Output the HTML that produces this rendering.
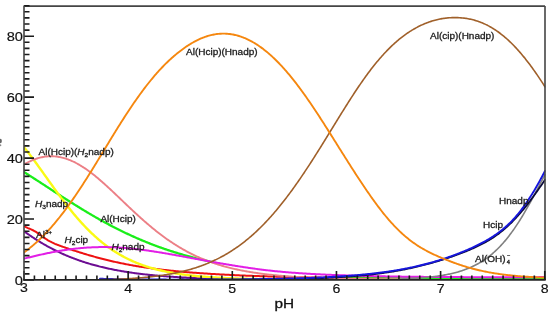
<!DOCTYPE html>
<html><head><meta charset="utf-8"><style>
html,body{margin:0;padding:0;background:#fff;}
body{width:550px;height:316px;overflow:hidden;}
svg{display:block;will-change:transform;}
text{font-family:"Liberation Sans",sans-serif;}
.tl{font-size:12px;fill:#111;stroke:#111;stroke-width:0.15px;}
.lb{font-size:9.1px;fill:#1c1c1c;stroke:#1c1c1c;stroke-width:0.3px;}
</style></head><body>
<svg width="550" height="316" viewBox="0 0 550 316">
<rect width="550" height="316" fill="#fff"/>
<clipPath id="pa"><rect x="24" y="5" width="521.5" height="275"/></clipPath>

<g clip-path="url(#pa)">
<polyline points="24.0,231.20 25.0,231.93 26.0,232.66 27.0,233.38 28.0,234.08 29.0,234.78 30.0,235.48 31.0,236.16 32.0,236.84 33.0,237.50 34.0,238.16 35.0,238.81 36.0,239.46 37.0,240.10 38.0,240.72 39.0,241.34 40.0,241.96 41.0,242.56 42.0,243.16 43.0,243.75 44.0,244.33 45.0,244.91 46.0,245.47 47.0,246.03 48.0,246.59 49.0,247.13 50.0,247.67 51.0,248.20 52.0,248.72 53.0,249.24 54.0,249.75 55.0,250.25 56.0,250.74 57.0,251.23 58.0,251.71 59.0,252.19 60.0,252.66 61.0,253.12 62.0,253.57 63.0,254.02 64.0,254.46 65.0,254.90 66.0,255.33 67.0,255.75 68.0,256.17 69.0,256.58 70.0,256.98 71.0,257.38 72.0,257.77 73.0,258.16 74.0,258.54 75.0,258.92 76.0,259.29 77.0,259.65 78.0,260.01 79.0,260.36 80.0,260.71 81.0,261.05 82.0,261.38 83.0,261.72 84.0,262.04 85.0,262.36 86.0,262.68 87.0,262.99 88.0,263.29 89.0,263.59 90.0,263.89 91.0,264.18 92.0,264.47 93.0,264.75 94.0,265.03 95.0,265.30 96.0,265.57 97.0,265.83 98.0,266.09 99.0,266.35 100.0,266.60 101.0,266.85 102.0,267.09 103.0,267.33 104.0,267.56 105.0,267.79 106.0,268.02 107.0,268.24 108.0,268.46 109.0,268.68 110.0,268.89 111.0,269.10 112.0,269.30 113.0,269.50 114.0,269.70 115.0,269.90 116.0,270.09 117.0,270.27 118.0,270.46 119.0,270.64 120.0,270.82 121.0,270.99 122.0,271.17 123.0,271.33 124.0,271.50 125.0,271.66 126.0,271.82 127.0,271.98 128.0,272.14 129.0,272.29 130.0,272.44 131.0,272.58 132.0,272.73 133.0,272.87 134.0,273.01 135.0,273.14 136.0,273.28 137.0,273.41 138.0,273.54 139.0,273.67 140.0,273.79 141.0,273.91 142.0,274.03 143.0,274.15 144.0,274.27 145.0,274.38 146.0,274.49 147.0,274.60 148.0,274.71 149.0,274.82 150.0,274.92 151.0,275.02 152.0,275.12 153.0,275.22 154.0,275.32 155.0,275.41 156.0,275.50 157.0,275.59 158.0,275.68 159.0,275.77 160.0,275.86 161.0,275.94 162.0,276.03 163.0,276.11 164.0,276.19 165.0,276.27 166.0,276.34 167.0,276.42 168.0,276.49 169.0,276.57 170.0,276.64 171.0,276.71 172.0,276.78 173.0,276.84 174.0,276.91 175.0,276.97 176.0,277.04 177.0,277.10 178.0,277.16 179.0,277.22 180.0,277.28 181.0,277.34 182.0,277.40 183.0,277.45 184.0,277.51 185.0,277.56 186.0,277.61 187.0,277.67 188.0,277.72 189.0,277.77 190.0,277.82 191.0,277.86 192.0,277.91 193.0,277.96 194.0,278.00 195.0,278.05 196.0,278.09 197.0,278.13 198.0,278.18 199.0,278.22 200.0,278.26 201.0,278.30 202.0,278.34 203.0,278.38 204.0,278.41 205.0,278.45 206.0,278.49 207.0,278.52 208.0,278.56 209.0,278.59 210.0,278.62 211.0,278.66 212.0,278.69 213.0,278.72 214.0,278.75 215.0,278.78 216.0,278.81 217.0,278.84 218.0,278.87 219.0,278.90 220.0,278.93 221.0,278.95 222.0,278.98 223.0,279.01 224.0,279.03 225.0,279.06 226.0,279.08 227.0,279.11 228.0,279.13 229.0,279.15 230.0,279.18 231.0,279.20 232.0,279.22 233.0,279.24 234.0,279.27 235.0,279.29 236.0,279.31 237.0,279.33 238.0,279.35 239.0,279.37 240.0,279.39 241.0,279.40 242.0,279.42 243.0,279.44 244.0,279.46 245.0,279.47 246.0,279.49 247.0,279.51 248.0,279.52 249.0,279.54 250.0,279.56 251.0,279.57 252.0,279.59 253.0,279.60 254.0,279.60 255.0,279.60 256.0,279.60 257.0,279.60 258.0,279.60 259.0,279.60 260.0,279.60 261.0,279.60 262.0,279.60 263.0,279.60 264.0,279.60 265.0,279.60 266.0,279.60 267.0,279.60 268.0,279.60 269.0,279.60 270.0,279.60 271.0,279.60 272.0,279.60 273.0,279.60 274.0,279.60 275.0,279.60 276.0,279.60 277.0,279.60 278.0,279.60 279.0,279.60 280.0,279.60 281.0,279.60 282.0,279.60 283.0,279.60 284.0,279.60 285.0,279.60 286.0,279.60 287.0,279.60 288.0,279.60 289.0,279.60 290.0,279.60 291.0,279.60 292.0,279.60 293.0,279.60 294.0,279.60 295.0,279.60 296.0,279.60 297.0,279.60 298.0,279.60 299.0,279.60 300.0,279.60 301.0,279.60 302.0,279.60 303.0,279.60 304.0,279.60 305.0,279.60 306.0,279.60 307.0,279.60 308.0,279.60 309.0,279.60 310.0,279.60 311.0,279.60 312.0,279.60 313.0,279.60 314.0,279.60 315.0,279.60 316.0,279.60 317.0,279.60 318.0,279.60 319.0,279.60 320.0,279.60 321.0,279.60 322.0,279.60 323.0,279.60 324.0,279.60 325.0,279.60 326.0,279.60 327.0,279.60 328.0,279.60 329.0,279.60 330.0,279.60 331.0,279.60 332.0,279.60 333.0,279.60 334.0,279.60 335.0,279.60 336.0,279.60 337.0,279.60 338.0,279.60 339.0,279.60 340.0,279.60 341.0,279.60 342.0,279.60 343.0,279.60 344.0,279.60 345.0,279.60 346.0,279.60 347.0,279.60 348.0,279.60 349.0,279.60 350.0,279.60 351.0,279.60 352.0,279.60 353.0,279.60 354.0,279.60 355.0,279.60 356.0,279.60 357.0,279.60 358.0,279.60 359.0,279.60 360.0,279.60 361.0,279.60 362.0,279.60 363.0,279.60 364.0,279.60 365.0,279.60 366.0,279.60 367.0,279.60 368.0,279.60 369.0,279.60 370.0,279.60 371.0,279.60 372.0,279.60 373.0,279.60 374.0,279.60 375.0,279.60 376.0,279.60 377.0,279.60 378.0,279.60 379.0,279.60 380.0,279.60 381.0,279.60 382.0,279.60 383.0,279.60 384.0,279.60 385.0,279.60 386.0,279.60 387.0,279.60 388.0,279.60 389.0,279.60 390.0,279.60 391.0,279.60 392.0,279.60 393.0,279.60 394.0,279.60 395.0,279.60 396.0,279.60 397.0,279.60 398.0,279.60 399.0,279.60 400.0,279.60 401.0,279.60 402.0,279.60 403.0,279.60 404.0,279.60 405.0,279.60 406.0,279.60 407.0,279.60 408.0,279.60 409.0,279.60 410.0,279.60 411.0,279.60 412.0,279.60 413.0,279.60 414.0,279.60 415.0,279.60 416.0,279.60 417.0,279.60 418.0,279.60 419.0,279.60 420.0,279.60 421.0,279.60 422.0,279.60 423.0,279.60 424.0,279.60 425.0,279.60 426.0,279.60 427.0,279.60 428.0,279.60 429.0,279.60 430.0,279.60 431.0,279.60 432.0,279.60 433.0,279.60 434.0,279.60 435.0,279.60 436.0,279.60 437.0,279.60 438.0,279.60 439.0,279.60 440.0,279.60 441.0,279.60 442.0,279.60 443.0,279.60 444.0,279.60 445.0,279.60 446.0,279.60 447.0,279.60 448.0,279.60 449.0,279.60 450.0,279.60 451.0,279.60 452.0,279.60 453.0,279.60 454.0,279.60 455.0,279.60 456.0,279.60 457.0,279.60 458.0,279.60 459.0,279.60 460.0,279.60 461.0,279.60 462.0,279.60 463.0,279.60 464.0,279.60 465.0,279.60 466.0,279.60 467.0,279.60 468.0,279.60 469.0,279.60 470.0,279.60 471.0,279.60 472.0,279.60 473.0,279.60 474.0,279.60 475.0,279.60 476.0,279.60 477.0,279.60 478.0,279.60 479.0,279.60 480.0,279.60 481.0,279.60 482.0,279.60 483.0,279.60 484.0,279.60 485.0,279.60 486.0,279.60 487.0,279.60 488.0,279.60 489.0,279.60 490.0,279.60 491.0,279.60 492.0,279.60 493.0,279.60 494.0,279.60 495.0,279.60 496.0,279.60 497.0,279.60 498.0,279.60 499.0,279.60 500.0,279.60 501.0,279.60 502.0,279.60 503.0,279.60 504.0,279.60 505.0,279.60 506.0,279.60 507.0,279.60 508.0,279.60 509.0,279.60 510.0,279.60 511.0,279.60 512.0,279.60 513.0,279.60 514.0,279.60 515.0,279.60 516.0,279.60 517.0,279.60 518.0,279.60 519.0,279.60 520.0,279.60 521.0,279.60 522.0,279.60 523.0,279.60 524.0,279.60 525.0,279.60 526.0,279.60 527.0,279.60 528.0,279.60 529.0,279.60 530.0,279.60 531.0,279.60 532.0,279.60 533.0,279.60 534.0,279.60 535.0,279.60 536.0,279.59 537.0,279.57 538.0,279.54 539.0,279.52 540.0,279.49 541.0,279.47 542.0,279.44 543.0,279.42 544.0,279.39 545.0,279.36" fill="none" stroke="#6c0d92" stroke-width="2.0" stroke-linejoin="round" stroke-linecap="round"/>
<polyline points="24.0,225.93 25.0,226.54 26.0,227.09 27.0,227.58 28.0,228.05 29.0,228.48 30.0,228.91 31.0,229.35 32.0,229.79 33.0,230.26 34.0,230.78 35.0,231.33 36.0,231.94 37.0,232.60 38.0,233.28 39.0,234.00 40.0,234.73 41.0,235.46 42.0,236.20 43.0,236.94 44.0,237.66 45.0,238.36 46.0,239.04 47.0,239.69 48.0,240.31 49.0,240.89 50.0,241.44 51.0,241.96 52.0,242.46 53.0,242.93 54.0,243.38 55.0,243.82 56.0,244.23 57.0,244.63 58.0,245.02 59.0,245.40 60.0,245.76 61.0,246.12 62.0,246.47 63.0,246.82 64.0,247.16 65.0,247.51 66.0,247.85 67.0,248.19 68.0,248.52 69.0,248.86 70.0,249.19 71.0,249.53 72.0,249.86 73.0,250.19 74.0,250.52 75.0,250.84 76.0,251.17 77.0,251.49 78.0,251.81 79.0,252.13 80.0,252.44 81.0,252.75 82.0,253.07 83.0,253.37 84.0,253.68 85.0,253.98 86.0,254.29 87.0,254.59 88.0,254.88 89.0,255.18 90.0,255.47 91.0,255.76 92.0,256.04 93.0,256.33 94.0,256.61 95.0,256.89 96.0,257.16 97.0,257.44 98.0,257.71 99.0,257.98 100.0,258.24 101.0,258.50 102.0,258.76 103.0,259.02 104.0,259.28 105.0,259.53 106.0,259.78 107.0,260.02 108.0,260.27 109.0,260.51 110.0,260.74 111.0,260.98 112.0,261.21 113.0,261.44 114.0,261.67 115.0,261.89 116.0,262.11 117.0,262.33 118.0,262.55 119.0,262.76 120.0,262.97 121.0,263.18 122.0,263.39 123.0,263.59 124.0,263.79 125.0,263.99 126.0,264.18 127.0,264.37 128.0,264.56 129.0,264.75 130.0,264.93 131.0,265.12 132.0,265.30 133.0,265.47 134.0,265.65 135.0,265.82 136.0,265.99 137.0,266.16 138.0,266.32 139.0,266.48 140.0,266.64 141.0,266.80 142.0,266.96 143.0,267.11 144.0,267.26 145.0,267.41 146.0,267.56 147.0,267.70 148.0,267.85 149.0,267.99 150.0,268.13 151.0,268.26 152.0,268.40 153.0,268.53 154.0,268.66 155.0,268.79 156.0,268.92 157.0,269.05 158.0,269.17 159.0,269.30 160.0,269.42 161.0,269.54 162.0,269.66 163.0,269.77 164.0,269.89 165.0,270.00 166.0,270.11 167.0,270.22 168.0,270.33 169.0,270.44 170.0,270.54 171.0,270.65 172.0,270.75 173.0,270.85 174.0,270.95 175.0,271.05 176.0,271.15 177.0,271.25 178.0,271.34 179.0,271.44 180.0,271.53 181.0,271.62 182.0,271.71 183.0,271.80 184.0,271.89 185.0,271.97 186.0,272.06 187.0,272.14 188.0,272.23 189.0,272.31 190.0,272.39 191.0,272.47 192.0,272.55 193.0,272.63 194.0,272.71 195.0,272.78 196.0,272.86 197.0,272.93 198.0,273.00 199.0,273.08 200.0,273.15 201.0,273.22 202.0,273.29 203.0,273.36 204.0,273.42 205.0,273.49 206.0,273.56 207.0,273.62 208.0,273.69 209.0,273.75 210.0,273.81 211.0,273.88 212.0,273.94 213.0,274.00 214.0,274.06 215.0,274.12 216.0,274.17 217.0,274.23 218.0,274.29 219.0,274.34 220.0,274.40 221.0,274.46 222.0,274.51 223.0,274.56 224.0,274.62 225.0,274.67 226.0,274.72 227.0,274.77 228.0,274.82 229.0,274.87 230.0,274.92 231.0,274.97 232.0,275.01 233.0,275.06 234.0,275.11 235.0,275.15 236.0,275.20 237.0,275.24 238.0,275.29 239.0,275.33 240.0,275.38 241.0,275.42 242.0,275.46 243.0,275.50 244.0,275.54 245.0,275.59 246.0,275.63 247.0,275.67 248.0,275.70 249.0,275.74 250.0,275.78 251.0,275.82 252.0,275.86 253.0,275.89 254.0,275.93 255.0,275.97 256.0,276.00 257.0,276.04 258.0,276.07 259.0,276.11 260.0,276.14 261.0,276.18 262.0,276.21 263.0,276.24 264.0,276.27 265.0,276.31 266.0,276.34 267.0,276.37 268.0,276.40 269.0,276.43 270.0,276.46 271.0,276.49 272.0,276.52 273.0,276.55 274.0,276.58 275.0,276.61 276.0,276.64 277.0,276.66 278.0,276.69 279.0,276.72 280.0,276.75 281.0,276.77 282.0,276.80 283.0,276.83 284.0,276.85 285.0,276.88 286.0,276.90 287.0,276.93 288.0,276.95 289.0,276.98 290.0,277.00 291.0,277.02 292.0,277.05 293.0,277.07 294.0,277.09 295.0,277.12 296.0,277.14 297.0,277.16 298.0,277.18 299.0,277.20 300.0,277.22 301.0,277.25 302.0,277.27 303.0,277.29 304.0,277.31 305.0,277.33 306.0,277.35 307.0,277.37 308.0,277.39 309.0,277.41 310.0,277.43 311.0,277.44 312.0,277.46 313.0,277.48 314.0,277.50 315.0,277.52 316.0,277.54 317.0,277.55 318.0,277.57 319.0,277.59 320.0,277.61 321.0,277.62 322.0,277.64 323.0,277.66 324.0,277.67 325.0,277.69 326.0,277.70 327.0,277.72 328.0,277.73 329.0,277.75 330.0,277.77 331.0,277.78 332.0,277.80 333.0,277.81 334.0,277.82 335.0,277.84 336.0,277.85 337.0,277.87 338.0,277.88 339.0,277.89 340.0,277.91 341.0,277.92 342.0,277.93 343.0,277.95 344.0,277.96 345.0,277.97 346.0,277.99 347.0,278.00 348.0,278.01 349.0,278.02 350.0,278.04 351.0,278.05 352.0,278.06 353.0,278.07 354.0,278.08 355.0,278.09 356.0,278.10 357.0,278.12 358.0,278.13 359.0,278.14 360.0,278.15 361.0,278.16 362.0,278.17 363.0,278.18 364.0,278.19 365.0,278.20 366.0,278.21 367.0,278.22 368.0,278.23 369.0,278.24 370.0,278.25 371.0,278.26 372.0,278.27 373.0,278.28 374.0,278.28 375.0,278.29 376.0,278.30 377.0,278.31 378.0,278.32 379.0,278.33 380.0,278.34 381.0,278.34 382.0,278.35 383.0,278.36 384.0,278.37 385.0,278.38 386.0,278.38 387.0,278.39 388.0,278.40 389.0,278.41 390.0,278.41 391.0,278.42 392.0,278.43 393.0,278.44 394.0,278.44 395.0,278.45 396.0,278.46 397.0,278.46 398.0,278.47 399.0,278.48 400.0,278.48 401.0,278.49 402.0,278.50 403.0,278.50 404.0,278.51 405.0,278.51 406.0,278.52 407.0,278.53 408.0,278.53 409.0,278.54 410.0,278.54 411.0,278.55 412.0,278.55 413.0,278.56 414.0,278.56 415.0,278.57 416.0,278.57 417.0,278.58 418.0,278.58 419.0,278.59 420.0,278.59 421.0,278.60 422.0,278.60 423.0,278.61 424.0,278.61 425.0,278.62 426.0,278.62 427.0,278.62 428.0,278.63 429.0,278.63 430.0,278.64 431.0,278.64 432.0,278.64 433.0,278.65 434.0,278.65 435.0,278.65 436.0,278.66 437.0,278.66 438.0,278.66 439.0,278.67 440.0,278.67 441.0,278.67 442.0,278.68 443.0,278.68 444.0,278.68 445.0,278.69 446.0,278.69 447.0,278.69 448.0,278.69 449.0,278.70 450.0,278.70 451.0,278.70 452.0,278.70 453.0,278.71 454.0,278.71 455.0,278.71 456.0,278.71 457.0,278.72 458.0,278.72 459.0,278.72 460.0,278.72 461.0,278.72 462.0,278.72 463.0,278.73 464.0,278.73 465.0,278.73 466.0,278.73 467.0,278.73 468.0,278.73 469.0,278.74 470.0,278.74 471.0,278.74 472.0,278.74 473.0,278.74 474.0,278.74 475.0,278.74 476.0,278.74 477.0,278.74 478.0,278.74 479.0,278.74 480.0,278.75 481.0,278.75 482.0,278.75 483.0,278.75 484.0,278.75 485.0,278.75 486.0,278.75 487.0,278.75 488.0,278.75 489.0,278.75 490.0,278.75 491.0,278.75 492.0,278.75 493.0,278.75 494.0,278.75 495.0,278.75 496.0,278.75 497.0,278.74 498.0,278.74 499.0,278.74 500.0,278.74 501.0,278.74 502.0,278.74 503.0,278.74 504.0,278.74 505.0,278.74 506.0,278.74 507.0,278.74 508.0,278.74 509.0,278.73 510.0,278.73 511.0,278.73 512.0,278.73 513.0,278.73 514.0,278.73 515.0,278.72 516.0,278.72 517.0,278.72 518.0,278.72 519.0,278.72 520.0,278.72 521.0,278.71 522.0,278.71 523.0,278.71 524.0,278.71 525.0,278.70 526.0,278.70 527.0,278.70 528.0,278.70 529.0,278.69 530.0,278.69 531.0,278.69 532.0,278.69 533.0,278.68 534.0,278.68 535.0,278.68 536.0,278.67 537.0,278.67 538.0,278.67 539.0,278.66 540.0,278.66 541.0,278.66 542.0,278.65 543.0,278.65 544.0,278.65 545.0,278.64" fill="none" stroke="#ee1111" stroke-width="2.0" stroke-linejoin="round" stroke-linecap="round"/>
<polyline points="24.0,172.08 25.0,172.70 26.0,173.33 27.0,173.96 28.0,174.59 29.0,175.23 30.0,175.86 31.0,176.50 32.0,177.14 33.0,177.78 34.0,178.42 35.0,179.07 36.0,179.71 37.0,180.36 38.0,181.00 39.0,181.65 40.0,182.30 41.0,182.95 42.0,183.60 43.0,184.25 44.0,184.90 45.0,185.55 46.0,186.21 47.0,186.86 48.0,187.51 49.0,188.16 50.0,188.82 51.0,189.47 52.0,190.12 53.0,190.77 54.0,191.42 55.0,192.07 56.0,192.72 57.0,193.37 58.0,194.02 59.0,194.67 60.0,195.31 61.0,195.96 62.0,196.60 63.0,197.25 64.0,197.89 65.0,198.53 66.0,199.17 67.0,199.81 68.0,200.45 69.0,201.08 70.0,201.71 71.0,202.35 72.0,202.98 73.0,203.60 74.0,204.23 75.0,204.86 76.0,205.48 77.0,206.10 78.0,206.72 79.0,207.33 80.0,207.95 81.0,208.56 82.0,209.17 83.0,209.78 84.0,210.38 85.0,210.98 86.0,211.58 87.0,212.18 88.0,212.78 89.0,213.37 90.0,213.96 91.0,214.54 92.0,215.13 93.0,215.71 94.0,216.29 95.0,216.87 96.0,217.44 97.0,218.01 98.0,218.58 99.0,219.14 100.0,219.70 101.0,220.26 102.0,220.81 103.0,221.37 104.0,221.91 105.0,222.46 106.0,223.00 107.0,223.54 108.0,224.08 109.0,224.61 110.0,225.14 111.0,225.67 112.0,226.19 113.0,226.71 114.0,227.23 115.0,227.74 116.0,228.25 117.0,228.76 118.0,229.26 119.0,229.76 120.0,230.26 121.0,230.75 122.0,231.24 123.0,231.73 124.0,232.21 125.0,232.69 126.0,233.17 127.0,233.64 128.0,234.11 129.0,234.58 130.0,235.04 131.0,235.50 132.0,235.95 133.0,236.41 134.0,236.85 135.0,237.30 136.0,237.74 137.0,238.18 138.0,238.61 139.0,239.05 140.0,239.47 141.0,239.90 142.0,240.32 143.0,240.74 144.0,241.15 145.0,241.56 146.0,241.97 147.0,242.37 148.0,242.77 149.0,243.17 150.0,243.57 151.0,243.96 152.0,244.34 153.0,244.73 154.0,245.11 155.0,245.49 156.0,245.86 157.0,246.23 158.0,246.60 159.0,246.96 160.0,247.32 161.0,247.68 162.0,248.03 163.0,248.38 164.0,248.73 165.0,249.08 166.0,249.42 167.0,249.76 168.0,250.09 169.0,250.42 170.0,250.75 171.0,251.08 172.0,251.40 173.0,251.72 174.0,252.04 175.0,252.35 176.0,252.66 177.0,252.97 178.0,253.27 179.0,253.57 180.0,253.87 181.0,254.16 182.0,254.46 183.0,254.75 184.0,255.03 185.0,255.32 186.0,255.60 187.0,255.88 188.0,256.15 189.0,256.42 190.0,256.69 191.0,256.96 192.0,257.22 193.0,257.49 194.0,257.74 195.0,258.00 196.0,258.25 197.0,258.50 198.0,258.75 199.0,259.00 200.0,259.24 201.0,259.48 202.0,259.72 203.0,259.95 204.0,260.19 205.0,260.42 206.0,260.64 207.0,260.87 208.0,261.09 209.0,261.31 210.0,261.53 211.0,261.75 212.0,261.96 213.0,262.17" fill="none" stroke="#1aee1a" stroke-width="2.3" stroke-linejoin="round" stroke-linecap="round"/>
<polyline points="330,278.00 335,278.01 340,278.01 345,278.02 350,278.03 355,278.03 360,278.04 365,278.05 370,278.06 375,278.06 380,278.07 385,278.08 390,278.08 395,278.09 400,278.10 405,278.10 410,278.11 415,278.12 420,278.13 425,278.13 430,278.14 435,278.15 440,278.15 445,278.16 450,278.17 455,278.17 460,278.18 465,278.19 470,278.20 475,278.20 480,278.21 485,278.22 490,278.22 495,278.23 500,278.24 505,278.24 510,278.25 515,278.26 520,278.27 525,278.27 530,278.28 535,278.29 540,278.29 545,278.30" fill="none" stroke="#1aee1a" stroke-width="1.6" stroke-linejoin="round" stroke-linecap="round"/>
<polyline points="24.0,147.27 25.0,148.50 26.0,149.74 27.0,151.00 28.0,152.28 29.0,153.57 30.0,154.87 31.0,156.19 32.0,157.51 33.0,158.85 34.0,160.20 35.0,161.56 36.0,162.93 37.0,164.31 38.0,165.69 39.0,167.08 40.0,168.47 41.0,169.87 42.0,171.27 43.0,172.67 44.0,174.08 45.0,175.48 46.0,176.89 47.0,178.30 48.0,179.71 49.0,181.11 50.0,182.52 51.0,183.92 52.0,185.31 53.0,186.71 54.0,188.10 55.0,189.48 56.0,190.86 57.0,192.23 58.0,193.59 59.0,194.95 60.0,196.30 61.0,197.64 62.0,198.98 63.0,200.30 64.0,201.62 65.0,202.92 66.0,204.22 67.0,205.50 68.0,206.78 69.0,208.04 70.0,209.29 71.0,210.53 72.0,211.76 73.0,212.98 74.0,214.18 75.0,215.37 76.0,216.55 77.0,217.71 78.0,218.87 79.0,220.00 80.0,221.13 81.0,222.24 82.0,223.34 83.0,224.42 84.0,225.49 85.0,226.55 86.0,227.59 87.0,228.62 88.0,229.63 89.0,230.63 90.0,231.61 91.0,232.58 92.0,233.54 93.0,234.48 94.0,235.41 95.0,236.32 96.0,237.22 97.0,238.10 98.0,238.97 99.0,239.83 100.0,240.67 101.0,241.50 102.0,242.32 103.0,243.12 104.0,243.90 105.0,244.68 106.0,245.44 107.0,246.19 108.0,246.92 109.0,247.64 110.0,248.35 111.0,249.04 112.0,249.72 113.0,250.39 114.0,251.05 115.0,251.69 116.0,252.32 117.0,252.94 118.0,253.55 119.0,254.15 120.0,254.73 121.0,255.30 122.0,255.87 123.0,256.42 124.0,256.95 125.0,257.48 126.0,258.00 127.0,258.51 128.0,259.00 129.0,259.49 130.0,259.96 131.0,260.43 132.0,260.89 133.0,261.33 134.0,261.77 135.0,262.20 136.0,262.61 137.0,263.02 138.0,263.42 139.0,263.82 140.0,264.20 141.0,264.57 142.0,264.94 143.0,265.30 144.0,265.65 145.0,265.99 146.0,266.32 147.0,266.65 148.0,266.97 149.0,267.28 150.0,267.59 151.0,267.89 152.0,268.18 153.0,268.46 154.0,268.74 155.0,269.01 156.0,269.28 157.0,269.54 158.0,269.79 159.0,270.04 160.0,270.28 161.0,270.52 162.0,270.75 163.0,270.97 164.0,271.19 165.0,271.40 166.0,271.61 167.0,271.82 168.0,272.02 169.0,272.21 170.0,272.40 171.0,272.59 172.0,272.77 173.0,272.94 174.0,273.12 175.0,273.28 176.0,273.45 177.0,273.61 178.0,273.76 179.0,273.92 180.0,274.07 181.0,274.21 182.0,274.35 183.0,274.49 184.0,274.62 185.0,274.76 186.0,274.88 187.0,275.01 188.0,275.13 189.0,275.25 190.0,275.36 191.0,275.48 192.0,275.59 193.0,275.70 194.0,275.80 195.0,275.90 196.0,276.00 197.0,276.10 198.0,276.19 199.0,276.29 200.0,276.38 201.0,276.47 202.0,276.55 203.0,276.63 204.0,276.72 205.0,276.80 206.0,276.87 207.0,276.95 208.0,277.02 209.0,277.09 210.0,277.16 211.0,277.23 212.0,277.30 213.0,277.36 214.0,277.43 215.0,277.49 216.0,277.55 217.0,277.61 218.0,277.67 219.0,277.72 220.0,277.78 221.0,277.83 222.0,277.88 223.0,277.93 224.0,277.98 225.0,278.03 226.0,278.08 227.0,278.12 228.0,278.17 229.0,278.21 230.0,278.25 231.0,278.29 232.0,278.33 233.0,278.37 234.0,278.41 235.0,278.45 236.0,278.48 237.0,278.52 238.0,278.55 239.0,278.59 240.0,278.62 241.0,278.65 242.0,278.68 243.0,278.71 244.0,278.74 245.0,278.77 246.0,278.80 247.0,278.82 248.0,278.85 249.0,278.88 250.0,278.90 251.0,278.93 252.0,278.95 253.0,278.97 254.0,279.00 255.0,279.02 256.0,279.04 257.0,279.06 258.0,279.08 259.0,279.10 260.0,279.12 261.0,279.14 262.0,279.16 263.0,279.17 264.0,279.19 265.0,279.21 266.0,279.22 267.0,279.24 268.0,279.26 269.0,279.27 270.0,279.29 271.0,279.30 272.0,279.31 273.0,279.33 274.0,279.34 275.0,279.35 276.0,279.36 277.0,279.37 278.0,279.39 279.0,279.40 280.0,279.41 281.0,279.42 282.0,279.43 283.0,279.44 284.0,279.45 285.0,279.45 286.0,279.46 287.0,279.47 288.0,279.48 289.0,279.49 290.0,279.49 291.0,279.50 292.0,279.51 293.0,279.51 294.0,279.52 295.0,279.52 296.0,279.53 297.0,279.53 298.0,279.54 299.0,279.54 300.0,279.55 301.0,279.55 302.0,279.56 303.0,279.56 304.0,279.56 305.0,279.56 306.0,279.57 307.0,279.57 308.0,279.57 309.0,279.57 310.0,279.57 311.0,279.57 312.0,279.58 313.0,279.58 314.0,279.58 315.0,279.58 316.0,279.58 317.0,279.57 318.0,279.57 319.0,279.57 320.0,279.57 321.0,279.57 322.0,279.57 323.0,279.56 324.0,279.56 325.0,279.56 326.0,279.55 327.0,279.55 328.0,279.55 329.0,279.54 330.0,279.54 331.0,279.53 332.0,279.52 333.0,279.52 334.0,279.51 335.0,279.51 336.0,279.50 337.0,279.49 338.0,279.48 339.0,279.47 340.0,279.47 341.0,279.46 342.0,279.45 343.0,279.44 344.0,279.43 345.0,279.41 346.0,279.40 347.0,279.39 348.0,279.38 349.0,279.36 350.0,279.35" fill="none" stroke="#fafa14" stroke-width="2.4" stroke-linejoin="round" stroke-linecap="round"/>
<polyline points="24.0,164.46 25.0,163.88 26.0,163.32 27.0,162.78 28.0,162.26 29.0,161.76 30.0,161.28 31.0,160.83 32.0,160.39 33.0,159.97 34.0,159.58 35.0,159.20 36.0,158.85 37.0,158.52 38.0,158.21 39.0,157.92 40.0,157.66 41.0,157.42 42.0,157.20 43.0,157.00 44.0,156.83 45.0,156.68 46.0,156.55 47.0,156.44 48.0,156.36 49.0,156.30 50.0,156.26 51.0,156.24 52.0,156.25 53.0,156.28 54.0,156.34 55.0,156.41 56.0,156.51 57.0,156.63 58.0,156.77 59.0,156.94 60.0,157.13 61.0,157.34 62.0,157.57 63.0,157.82 64.0,158.09 65.0,158.39 66.0,158.70 67.0,159.04 68.0,159.40 69.0,159.78 70.0,160.18 71.0,160.60 72.0,161.03 73.0,161.49 74.0,161.97 75.0,162.47 76.0,162.98 77.0,163.51 78.0,164.06 79.0,164.63 80.0,165.22 81.0,165.82 82.0,166.44 83.0,167.08 84.0,167.73 85.0,168.40 86.0,169.08 87.0,169.78 88.0,170.49 89.0,171.22 90.0,171.96 91.0,172.72 92.0,173.48 93.0,174.26 94.0,175.06 95.0,175.86 96.0,176.68 97.0,177.51 98.0,178.34 99.0,179.19 100.0,180.05 101.0,180.92 102.0,181.79 103.0,182.68 104.0,183.57 105.0,184.47 106.0,185.37 107.0,186.28 108.0,187.20 109.0,188.13 110.0,189.05 111.0,189.99 112.0,190.92 113.0,191.86 114.0,192.81 115.0,193.75 116.0,194.70 117.0,195.65 118.0,196.61 119.0,197.56 120.0,198.52 121.0,199.47 122.0,200.43 123.0,201.38 124.0,202.34 125.0,203.29 126.0,204.24 127.0,205.19 128.0,206.14 129.0,207.09 130.0,208.03 131.0,208.98 132.0,209.91 133.0,210.85 134.0,211.78 135.0,212.71 136.0,213.63 137.0,214.55 138.0,215.46 139.0,216.37 140.0,217.28 141.0,218.18 142.0,219.07 143.0,219.96 144.0,220.84 145.0,221.71 146.0,222.58 147.0,223.45 148.0,224.30 149.0,225.15 150.0,225.99 151.0,226.83 152.0,227.66 153.0,228.48 154.0,229.29 155.0,230.10 156.0,230.90 157.0,231.69 158.0,232.47 159.0,233.24 160.0,234.01 161.0,234.77 162.0,235.52 163.0,236.26 164.0,237.00 165.0,237.72 166.0,238.44 167.0,239.15 168.0,239.85 169.0,240.54 170.0,241.23 171.0,241.90 172.0,242.57 173.0,243.22 174.0,243.87 175.0,244.51 176.0,245.15 177.0,245.77 178.0,246.38 179.0,246.99 180.0,247.59 181.0,248.18 182.0,248.76 183.0,249.33 184.0,249.90 185.0,250.45 186.0,251.00 187.0,251.54 188.0,252.07 189.0,252.59 190.0,253.11 191.0,253.61 192.0,254.11 193.0,254.60 194.0,255.09 195.0,255.56 196.0,256.03 197.0,256.49 198.0,256.94 199.0,257.39 200.0,257.82 201.0,258.25 202.0,258.68 203.0,259.09 204.0,259.50 205.0,259.90 206.0,260.29 207.0,260.68 208.0,261.06 209.0,261.44 210.0,261.80 211.0,262.16 212.0,262.52 213.0,262.86 214.0,263.21 215.0,263.54 216.0,263.87 217.0,264.19 218.0,264.51 219.0,264.82 220.0,265.13 221.0,265.43 222.0,265.72 223.0,266.01 224.0,266.29 225.0,266.57 226.0,266.84 227.0,267.11 228.0,267.37 229.0,267.62 230.0,267.88 231.0,268.12 232.0,268.36 233.0,268.60 234.0,268.83 235.0,269.06 236.0,269.28 237.0,269.50 238.0,269.72 239.0,269.93 240.0,270.13 241.0,270.34 242.0,270.53 243.0,270.73 244.0,270.92 245.0,271.10 246.0,271.28 247.0,271.46 248.0,271.64 249.0,271.81 250.0,271.98 251.0,272.14 252.0,272.30 253.0,272.46 254.0,272.62 255.0,272.77 256.0,272.91 257.0,273.06 258.0,273.20 259.0,273.34 260.0,273.48 261.0,273.61 262.0,273.74 263.0,273.87 264.0,273.99 265.0,274.12 266.0,274.24 267.0,274.35 268.0,274.47 269.0,274.58 270.0,274.69 271.0,274.80 272.0,274.91 273.0,275.01 274.0,275.11 275.0,275.21 276.0,275.31 277.0,275.40 278.0,275.49 279.0,275.59 280.0,275.67 281.0,275.76 282.0,275.85 283.0,275.93 284.0,276.01 285.0,276.09 286.0,276.17 287.0,276.25 288.0,276.32 289.0,276.40 290.0,276.47 291.0,276.54 292.0,276.61 293.0,276.67 294.0,276.74 295.0,276.80 296.0,276.87 297.0,276.93 298.0,276.99 299.0,277.05 300.0,277.11 301.0,277.16 302.0,277.22 303.0,277.27 304.0,277.32 305.0,277.38 306.0,277.43 307.0,277.48 308.0,277.52 309.0,277.57 310.0,277.62 311.0,277.66 312.0,277.71 313.0,277.75 314.0,277.79 315.0,277.84 316.0,277.88 317.0,277.92 318.0,277.95 319.0,277.99 320.0,278.03 321.0,278.07 322.0,278.10 323.0,278.14 324.0,278.17 325.0,278.20 326.0,278.24 327.0,278.27 328.0,278.30 329.0,278.33 330.0,278.36 331.0,278.39 332.0,278.42 333.0,278.44 334.0,278.47 335.0,278.50 336.0,278.52 337.0,278.55 338.0,278.57 339.0,278.60 340.0,278.62 341.0,278.64 342.0,278.67 343.0,278.69 344.0,278.71 345.0,278.73 346.0,278.75 347.0,278.77 348.0,278.79 349.0,278.81 350.0,278.83 351.0,278.85 352.0,278.86 353.0,278.88 354.0,278.90 355.0,278.92 356.0,278.93 357.0,278.95 358.0,278.96 359.0,278.98 360.0,278.99 361.0,279.00 362.0,279.02 363.0,279.03 364.0,279.04 365.0,279.06 366.0,279.07 367.0,279.08 368.0,279.09 369.0,279.10 370.0,279.11 371.0,279.12 372.0,279.13 373.0,279.14 374.0,279.15 375.0,279.16 376.0,279.17 377.0,279.18 378.0,279.19 379.0,279.19 380.0,279.20 381.0,279.21 382.0,279.22 383.0,279.22 384.0,279.23 385.0,279.24 386.0,279.24 387.0,279.25 388.0,279.25 389.0,279.26 390.0,279.26 391.0,279.27 392.0,279.27 393.0,279.27 394.0,279.28 395.0,279.28 396.0,279.28 397.0,279.28 398.0,279.29 399.0,279.29 400.0,279.29 401.0,279.29 402.0,279.29 403.0,279.29 404.0,279.30 405.0,279.30 406.0,279.30 407.0,279.30 408.0,279.29 409.0,279.29 410.0,279.29 411.0,279.29 412.0,279.29 413.0,279.29 414.0,279.29 415.0,279.28 416.0,279.28 417.0,279.28 418.0,279.27 419.0,279.27 420.0,279.27" fill="none" stroke="#ec7f86" stroke-width="1.9" stroke-linejoin="round" stroke-linecap="round"/>
<polyline points="24.0,258.64 25.0,258.39 26.0,258.14 27.0,257.90 28.0,257.65 29.0,257.41 30.0,257.17 31.0,256.92 32.0,256.68 33.0,256.45 34.0,256.21 35.0,255.98 36.0,255.74 37.0,255.51 38.0,255.28 39.0,255.05 40.0,254.83 41.0,254.60 42.0,254.38 43.0,254.16 44.0,253.95 45.0,253.73 46.0,253.52 47.0,253.31 48.0,253.10 49.0,252.90 50.0,252.70 51.0,252.50 52.0,252.30 53.0,252.11 54.0,251.92 55.0,251.73 56.0,251.55 57.0,251.37 58.0,251.19 59.0,251.01 60.0,250.84 61.0,250.67 62.0,250.51 63.0,250.35 64.0,250.19 65.0,250.04 66.0,249.89 67.0,249.74 68.0,249.60 69.0,249.46 70.0,249.32 71.0,249.19 72.0,249.06 73.0,248.94 74.0,248.82 75.0,248.70 76.0,248.59 77.0,248.48 78.0,248.37 79.0,248.27 80.0,248.18 81.0,248.08 82.0,247.99 83.0,247.91 84.0,247.83 85.0,247.75 86.0,247.68 87.0,247.61 88.0,247.55 89.0,247.49 90.0,247.43 91.0,247.38 92.0,247.33 93.0,247.29 94.0,247.25 95.0,247.22 96.0,247.18 97.0,247.16 98.0,247.13 99.0,247.12 100.0,247.10 101.0,247.09 102.0,247.08 103.0,247.08 104.0,247.08 105.0,247.09 106.0,247.10 107.0,247.11 108.0,247.13 109.0,247.15 110.0,247.17 111.0,247.20 112.0,247.23 113.0,247.27 114.0,247.31 115.0,247.35 116.0,247.40 117.0,247.45 118.0,247.51 119.0,247.57 120.0,247.63 121.0,247.69 122.0,247.76 123.0,247.83 124.0,247.91 125.0,247.99 126.0,248.07 127.0,248.15 128.0,248.24 129.0,248.33 130.0,248.43 131.0,248.53 132.0,248.63 133.0,248.73 134.0,248.84 135.0,248.95 136.0,249.06 137.0,249.17 138.0,249.29 139.0,249.41 140.0,249.53 141.0,249.66 142.0,249.79 143.0,249.92 144.0,250.05 145.0,250.18 146.0,250.32 147.0,250.46 148.0,250.60 149.0,250.75 150.0,250.89 151.0,251.04 152.0,251.19 153.0,251.34 154.0,251.49 155.0,251.65 156.0,251.81 157.0,251.96 158.0,252.12 159.0,252.29 160.0,252.45 161.0,252.61 162.0,252.78 163.0,252.95 164.0,253.12 165.0,253.29 166.0,253.46 167.0,253.63 168.0,253.80 169.0,253.98 170.0,254.15 171.0,254.33 172.0,254.51 173.0,254.68 174.0,254.86 175.0,255.04 176.0,255.22 177.0,255.40 178.0,255.59 179.0,255.77 180.0,255.95 181.0,256.13 182.0,256.32 183.0,256.50 184.0,256.68 185.0,256.87 186.0,257.05 187.0,257.24 188.0,257.42 189.0,257.61 190.0,257.79 191.0,257.98 192.0,258.16 193.0,258.35 194.0,258.54 195.0,258.72 196.0,258.91 197.0,259.09 198.0,259.27 199.0,259.46 200.0,259.64 201.0,259.83 202.0,260.01 203.0,260.19 204.0,260.38 205.0,260.56 206.0,260.74 207.0,260.92 208.0,261.10 209.0,261.28 210.0,261.46 211.0,261.64 212.0,261.82 213.0,262.00 214.0,262.18 215.0,262.35 216.0,262.53 217.0,262.71 218.0,262.88 219.0,263.05 220.0,263.23 221.0,263.40 222.0,263.57 223.0,263.75 224.0,263.92 225.0,264.09 226.0,264.25 227.0,264.42 228.0,264.59 229.0,264.76 230.0,264.92 231.0,265.09 232.0,265.25 233.0,265.42 234.0,265.58 235.0,265.74 236.0,265.90 237.0,266.06 238.0,266.22 239.0,266.37 240.0,266.53 241.0,266.69 242.0,266.84 243.0,267.00 244.0,267.15 245.0,267.30 246.0,267.45 247.0,267.60 248.0,267.75 249.0,267.89 250.0,268.04 251.0,268.18 252.0,268.32 253.0,268.46 254.0,268.60 255.0,268.74 256.0,268.87 257.0,269.01 258.0,269.14 259.0,269.27 260.0,269.40 261.0,269.53 262.0,269.65 263.0,269.78 264.0,269.90 265.0,270.02 266.0,270.14 267.0,270.26 268.0,270.37 269.0,270.48 270.0,270.60 271.0,270.71 272.0,270.81 273.0,270.92 274.0,271.03 275.0,271.13 276.0,271.23 277.0,271.33 278.0,271.43 279.0,271.52 280.0,271.62 281.0,271.71 282.0,271.80 283.0,271.89 284.0,271.98 285.0,272.07 286.0,272.15 287.0,272.24 288.0,272.32 289.0,272.40 290.0,272.48 291.0,272.56 292.0,272.63 293.0,272.71 294.0,272.79 295.0,272.86 296.0,272.93 297.0,273.00 298.0,273.07 299.0,273.14 300.0,273.21 301.0,273.27 302.0,273.34 303.0,273.40 304.0,273.47 305.0,273.53 306.0,273.59 307.0,273.65 308.0,273.71 309.0,273.77 310.0,273.83 311.0,273.88 312.0,273.94 313.0,274.00 314.0,274.05 315.0,274.10 316.0,274.15 317.0,274.21 318.0,274.26 319.0,274.31 320.0,274.36 321.0,274.40 322.0,274.45 323.0,274.50 324.0,274.55 325.0,274.59 326.0,274.64 327.0,274.68 328.0,274.72 329.0,274.77 330.0,274.81 331.0,274.85 332.0,274.89 333.0,274.93 334.0,274.97 335.0,275.01 336.0,275.05 337.0,275.08 338.0,275.12 339.0,275.16 340.0,275.19 341.0,275.23 342.0,275.26 343.0,275.30 344.0,275.33 345.0,275.37 346.0,275.40 347.0,275.43 348.0,275.46 349.0,275.50 350.0,275.53 351.0,275.56 352.0,275.59 353.0,275.62 354.0,275.65 355.0,275.67 356.0,275.70 357.0,275.73 358.0,275.76 359.0,275.78 360.0,275.81 361.0,275.84 362.0,275.86 363.0,275.89 364.0,275.91 365.0,275.94 366.0,275.96 367.0,275.99 368.0,276.01 369.0,276.03 370.0,276.06 371.0,276.08 372.0,276.10 373.0,276.12 374.0,276.14 375.0,276.17 376.0,276.19 377.0,276.21 378.0,276.23 379.0,276.25 380.0,276.27 381.0,276.29 382.0,276.30 383.0,276.32 384.0,276.34 385.0,276.36 386.0,276.38 387.0,276.39 388.0,276.41 389.0,276.43 390.0,276.45 391.0,276.46 392.0,276.48 393.0,276.49 394.0,276.51 395.0,276.53 396.0,276.54 397.0,276.56 398.0,276.57 399.0,276.59 400.0,276.60 401.0,276.61 402.0,276.63 403.0,276.64 404.0,276.65 405.0,276.67 406.0,276.68 407.0,276.69 408.0,276.71 409.0,276.72 410.0,276.73 411.0,276.74 412.0,276.75 413.0,276.76 414.0,276.78 415.0,276.79 416.0,276.80 417.0,276.81 418.0,276.82 419.0,276.83 420.0,276.84 421.0,276.85 422.0,276.86 423.0,276.87 424.0,276.88 425.0,276.89 426.0,276.90 427.0,276.91 428.0,276.91 429.0,276.92 430.0,276.93 431.0,276.94 432.0,276.95 433.0,276.95 434.0,276.96 435.0,276.97 436.0,276.98 437.0,276.98 438.0,276.99 439.0,277.00 440.0,277.01 441.0,277.01 442.0,277.02 443.0,277.03 444.0,277.03 445.0,277.04 446.0,277.04 447.0,277.05 448.0,277.05 449.0,277.06 450.0,277.07 451.0,277.07 452.0,277.08 453.0,277.08 454.0,277.09 455.0,277.09 456.0,277.10 457.0,277.10 458.0,277.10 459.0,277.11 460.0,277.11 461.0,277.12 462.0,277.12 463.0,277.12 464.0,277.13 465.0,277.13 466.0,277.13 467.0,277.14 468.0,277.14 469.0,277.14 470.0,277.15 471.0,277.15 472.0,277.15 473.0,277.16 474.0,277.16 475.0,277.16 476.0,277.16 477.0,277.16 478.0,277.17 479.0,277.17 480.0,277.17 481.0,277.17 482.0,277.17 483.0,277.18 484.0,277.18 485.0,277.18 486.0,277.18 487.0,277.18 488.0,277.18 489.0,277.18 490.0,277.18 491.0,277.18 492.0,277.19 493.0,277.19 494.0,277.19 495.0,277.19 496.0,277.19 497.0,277.19 498.0,277.19 499.0,277.19 500.0,277.19 501.0,277.19 502.0,277.19 503.0,277.19 504.0,277.19 505.0,277.19 506.0,277.19 507.0,277.18 508.0,277.18 509.0,277.18 510.0,277.18 511.0,277.18 512.0,277.18 513.0,277.18 514.0,277.18 515.0,277.18 516.0,277.18 517.0,277.17 518.0,277.17 519.0,277.17 520.0,277.17 521.0,277.17 522.0,277.17 523.0,277.16 524.0,277.16 525.0,277.16 526.0,277.16 527.0,277.16 528.0,277.15 529.0,277.15 530.0,277.15 531.0,277.15 532.0,277.14 533.0,277.14 534.0,277.14 535.0,277.14 536.0,277.13 537.0,277.13 538.0,277.13 539.0,277.12 540.0,277.12 541.0,277.12 542.0,277.11 543.0,277.11 544.0,277.11 545.0,277.10" fill="none" stroke="#e21ee6" stroke-width="2.0" stroke-linejoin="round" stroke-linecap="round"/>
<polyline points="400.0,279.01 401.0,278.97 402.0,278.93 403.0,278.89 404.0,278.85 405.0,278.81 406.0,278.76 407.0,278.72 408.0,278.67 409.0,278.62 410.0,278.57 411.0,278.51 412.0,278.46 413.0,278.40 414.0,278.34 415.0,278.28 416.0,278.22 417.0,278.15 418.0,278.08 419.0,278.01 420.0,277.94 421.0,277.86 422.0,277.78 423.0,277.70 424.0,277.62 425.0,277.53 426.0,277.44 427.0,277.34 428.0,277.24 429.0,277.14 430.0,277.04 431.0,276.93 432.0,276.81 433.0,276.70 434.0,276.57 435.0,276.45 436.0,276.32 437.0,276.18 438.0,276.04 439.0,275.90 440.0,275.75 441.0,275.59 442.0,275.43 443.0,275.26 444.0,275.09 445.0,274.91 446.0,274.72 447.0,274.53 448.0,274.33 449.0,274.12 450.0,273.91 451.0,273.69 452.0,273.46 453.0,273.22 454.0,272.97 455.0,272.72 456.0,272.45 457.0,272.18 458.0,271.90 459.0,271.61 460.0,271.30 461.0,270.99 462.0,270.67 463.0,270.33 464.0,269.98 465.0,269.62 466.0,269.25 467.0,268.87 468.0,268.47 469.0,268.06 470.0,267.64 471.0,267.20 472.0,266.75 473.0,266.28 474.0,265.80 475.0,265.30 476.0,264.79 477.0,264.26 478.0,263.71 479.0,263.15 480.0,262.56 481.0,261.96 482.0,261.34 483.0,260.70 484.0,260.04 485.0,259.36 486.0,258.66 487.0,257.94 488.0,257.20 489.0,256.44 490.0,255.65 491.0,254.84 492.0,254.01 493.0,253.15 494.0,252.27 495.0,251.36 496.0,250.43 497.0,249.48 498.0,248.50 499.0,247.49 500.0,246.45 501.0,245.39 502.0,244.31 503.0,243.19 504.0,242.05 505.0,240.88 506.0,239.68 507.0,238.46 508.0,237.20 509.0,235.92 510.0,234.61 511.0,233.27 512.0,231.90 513.0,230.51 514.0,229.09 515.0,227.64 516.0,226.16 517.0,224.65 518.0,223.12 519.0,221.56 520.0,219.98 521.0,218.37 522.0,216.73 523.0,215.08 524.0,213.39 525.0,211.69 526.0,209.96 527.0,208.21 528.0,206.44 529.0,204.66 530.0,202.85 531.0,201.03 532.0,199.19 533.0,197.34 534.0,195.48 535.0,193.60 536.0,191.72 537.0,189.82 538.0,187.93 539.0,186.02 540.0,184.12 541.0,182.22 542.0,180.31 543.0,178.42 544.0,176.52 545.0,174.64" fill="none" stroke="#808080" stroke-width="1.6" stroke-linejoin="round" stroke-linecap="round"/>
<polyline points="180.0,279.49 181.0,279.50 182.0,279.51 183.0,279.52 184.0,279.53 185.0,279.54 186.0,279.55 187.0,279.55 188.0,279.56 189.0,279.57 190.0,279.58 191.0,279.58 192.0,279.59 193.0,279.60 194.0,279.60 195.0,279.60 196.0,279.60 197.0,279.60 198.0,279.60 199.0,279.60 200.0,279.60 201.0,279.60 202.0,279.60 203.0,279.60 204.0,279.60 205.0,279.60 206.0,279.60 207.0,279.60 208.0,279.60 209.0,279.60 210.0,279.60 211.0,279.60 212.0,279.60 213.0,279.60 214.0,279.60 215.0,279.60 216.0,279.60 217.0,279.60 218.0,279.60 219.0,279.60 220.0,279.60 221.0,279.60 222.0,279.60 223.0,279.60 224.0,279.60 225.0,279.60 226.0,279.60 227.0,279.60 228.0,279.60 229.0,279.60 230.0,279.60 231.0,279.60 232.0,279.60 233.0,279.60 234.0,279.60 235.0,279.60 236.0,279.60 237.0,279.60 238.0,279.60 239.0,279.60 240.0,279.60 241.0,279.60 242.0,279.59 243.0,279.59 244.0,279.58 245.0,279.57 246.0,279.57 247.0,279.56 248.0,279.55 249.0,279.55 250.0,279.54 251.0,279.53 252.0,279.53 253.0,279.52 254.0,279.51 255.0,279.50 256.0,279.49 257.0,279.48 258.0,279.47 259.0,279.46 260.0,279.45 261.0,279.44 262.0,279.43 263.0,279.42 264.0,279.41 265.0,279.40 266.0,279.39 267.0,279.38 268.0,279.36 269.0,279.35 270.0,279.34 271.0,279.33 272.0,279.31 273.0,279.30 274.0,279.28 275.0,279.27 276.0,279.25 277.0,279.24 278.0,279.22 279.0,279.21 280.0,279.19 281.0,279.17 282.0,279.16 283.0,279.14 284.0,279.12 285.0,279.10 286.0,279.08 287.0,279.06 288.0,279.04 289.0,279.02 290.0,279.00 291.0,278.98 292.0,278.96 293.0,278.94 294.0,278.92 295.0,278.89 296.0,278.87 297.0,278.84 298.0,278.82 299.0,278.79 300.0,278.77 301.0,278.74 302.0,278.71 303.0,278.69 304.0,278.66 305.0,278.63 306.0,278.60 307.0,278.57 308.0,278.54 309.0,278.51 310.0,278.48 311.0,278.44 312.0,278.41 313.0,278.37 314.0,278.34 315.0,278.30 316.0,278.27 317.0,278.23 318.0,278.19 319.0,278.15 320.0,278.11 321.0,278.07 322.0,278.03 323.0,277.99 324.0,277.94 325.0,277.90 326.0,277.85 327.0,277.81 328.0,277.76 329.0,277.71 330.0,277.66 331.0,277.61 332.0,277.56 333.0,277.51 334.0,277.46 335.0,277.40 336.0,277.35 337.0,277.29 338.0,277.23 339.0,277.17 340.0,277.11 341.0,277.05 342.0,276.99 343.0,276.92 344.0,276.86 345.0,276.79 346.0,276.72 347.0,276.65 348.0,276.58 349.0,276.51 350.0,276.44 351.0,276.36 352.0,276.28 353.0,276.21 354.0,276.13 355.0,276.04 356.0,275.96 357.0,275.88 358.0,275.79 359.0,275.70 360.0,275.61 361.0,275.52 362.0,275.43 363.0,275.33 364.0,275.23 365.0,275.14 366.0,275.03 367.0,274.93 368.0,274.83 369.0,274.72 370.0,274.61 371.0,274.50 372.0,274.39 373.0,274.27 374.0,274.16 375.0,274.04 376.0,273.92 377.0,273.79 378.0,273.67 379.0,273.54 380.0,273.41 381.0,273.27 382.0,273.14 383.0,273.00 384.0,272.86 385.0,272.72 386.0,272.57 387.0,272.43 388.0,272.28 389.0,272.12 390.0,271.97 391.0,271.81 392.0,271.65 393.0,271.49 394.0,271.32 395.0,271.15 396.0,270.98 397.0,270.81 398.0,270.63 399.0,270.45 400.0,270.27 401.0,270.08 402.0,269.89 403.0,269.70 404.0,269.51 405.0,269.31 406.0,269.11 407.0,268.91 408.0,268.70 409.0,268.49 410.0,268.28 411.0,268.06 412.0,267.84 413.0,267.62 414.0,267.40 415.0,267.17 416.0,266.94 417.0,266.70 418.0,266.47 419.0,266.23 420.0,265.98 421.0,265.74 422.0,265.49 423.0,265.23 424.0,264.98 425.0,264.72 426.0,264.46 427.0,264.19 428.0,263.93 429.0,263.65 430.0,263.38 431.0,263.10 432.0,262.82 433.0,262.54 434.0,262.25 435.0,261.97 436.0,261.67 437.0,261.38 438.0,261.08 439.0,260.78 440.0,260.47 441.0,260.16 442.0,259.85 443.0,259.54 444.0,259.22 445.0,258.90 446.0,258.57 447.0,258.25 448.0,257.91 449.0,257.58 450.0,257.24 451.0,256.90 452.0,256.55 453.0,256.20 454.0,255.85 455.0,255.49 456.0,255.13 457.0,254.76 458.0,254.40 459.0,254.02 460.0,253.65 461.0,253.27 462.0,252.88 463.0,252.49 464.0,252.10 465.0,251.70 466.0,251.30 467.0,250.89 468.0,250.48 469.0,250.07 470.0,249.64 471.0,249.22 472.0,248.78 473.0,248.34 474.0,247.89 475.0,247.44 476.0,246.98 477.0,246.51 478.0,246.03 479.0,245.55 480.0,245.05 481.0,244.55 482.0,244.04 483.0,243.52 484.0,242.98 485.0,242.44 486.0,241.89 487.0,241.32 488.0,240.74 489.0,240.15 490.0,239.55 491.0,238.93 492.0,238.30 493.0,237.65 494.0,236.98 495.0,236.30 496.0,235.61 497.0,234.89 498.0,234.16 499.0,233.41 500.0,232.64 501.0,231.86 502.0,231.05 503.0,230.23 504.0,229.39 505.0,228.53 506.0,227.66 507.0,226.76 508.0,225.84 509.0,224.91 510.0,223.96 511.0,222.99 512.0,221.99 513.0,220.98 514.0,219.95 515.0,218.91 516.0,217.84 517.0,216.75 518.0,215.65 519.0,214.52 520.0,213.38 521.0,212.22 522.0,211.04 523.0,209.85 524.0,208.63 525.0,207.40 526.0,206.15 527.0,204.88 528.0,203.60 529.0,202.30 530.0,200.99 531.0,199.66 532.0,198.31 533.0,196.96 534.0,195.58 535.0,194.20 536.0,192.80 537.0,191.39 538.0,189.98 539.0,188.55 540.0,187.11 541.0,185.67 542.0,184.21 543.0,182.76 544.0,181.29 545.0,179.82" fill="none" stroke="#0b0b38" stroke-width="1.8" stroke-linejoin="round" stroke-linecap="round"/>
<polyline points="100.0,278.74 101.0,278.77 102.0,278.80 103.0,278.82 104.0,278.85 105.0,278.88 106.0,278.90 107.0,278.92 108.0,278.95 109.0,278.97 110.0,278.99 111.0,279.01 112.0,279.04 113.0,279.06 114.0,279.08 115.0,279.09 116.0,279.11 117.0,279.13 118.0,279.15 119.0,279.17 120.0,279.18 121.0,279.20 122.0,279.21 123.0,279.23 124.0,279.24 125.0,279.26 126.0,279.27 127.0,279.29 128.0,279.30 129.0,279.31 130.0,279.32 131.0,279.34 132.0,279.35 133.0,279.36 134.0,279.37 135.0,279.38 136.0,279.39 137.0,279.40 138.0,279.41 139.0,279.42 140.0,279.43 141.0,279.44 142.0,279.44 143.0,279.45 144.0,279.46 145.0,279.47 146.0,279.48 147.0,279.48 148.0,279.49 149.0,279.50 150.0,279.50 151.0,279.51 152.0,279.51 153.0,279.52 154.0,279.52 155.0,279.53 156.0,279.54 157.0,279.54 158.0,279.54 159.0,279.55 160.0,279.55 161.0,279.56 162.0,279.56 163.0,279.56 164.0,279.57 165.0,279.57 166.0,279.57 167.0,279.58 168.0,279.58 169.0,279.58 170.0,279.58 171.0,279.59 172.0,279.59 173.0,279.59 174.0,279.59 175.0,279.59 176.0,279.59 177.0,279.60 178.0,279.60 179.0,279.60 180.0,279.60 181.0,279.60 182.0,279.60 183.0,279.60 184.0,279.60 185.0,279.60 186.0,279.60 187.0,279.60 188.0,279.60 189.0,279.60 190.0,279.60 191.0,279.59 192.0,279.59 193.0,279.59 194.0,279.59 195.0,279.59 196.0,279.59 197.0,279.58 198.0,279.58 199.0,279.58 200.0,279.58 201.0,279.57 202.0,279.57 203.0,279.57 204.0,279.57 205.0,279.56 206.0,279.56 207.0,279.56 208.0,279.55 209.0,279.55 210.0,279.54 211.0,279.54 212.0,279.54 213.0,279.53 214.0,279.53 215.0,279.52 216.0,279.52 217.0,279.51 218.0,279.51 219.0,279.50 220.0,279.49 221.0,279.49 222.0,279.48 223.0,279.48 224.0,279.47 225.0,279.46 226.0,279.46 227.0,279.45 228.0,279.44 229.0,279.44 230.0,279.43 231.0,279.42 232.0,279.41 233.0,279.40 234.0,279.40 235.0,279.39 236.0,279.38 237.0,279.37 238.0,279.36 239.0,279.35 240.0,279.34 241.0,279.33 242.0,279.32 243.0,279.31 244.0,279.30 245.0,279.29 246.0,279.28 247.0,279.27 248.0,279.26 249.0,279.25 250.0,279.23 251.0,279.22 252.0,279.21 253.0,279.20 254.0,279.18 255.0,279.17 256.0,279.16 257.0,279.14 258.0,279.13 259.0,279.12 260.0,279.10 261.0,279.09 262.0,279.07 263.0,279.06 264.0,279.04 265.0,279.02 266.0,279.01 267.0,278.99 268.0,278.97 269.0,278.96 270.0,278.94 271.0,278.92 272.0,278.90 273.0,278.88 274.0,278.87 275.0,278.85 276.0,278.83 277.0,278.81 278.0,278.79 279.0,278.77 280.0,278.74 281.0,278.72 282.0,278.70 283.0,278.68 284.0,278.65 285.0,278.63 286.0,278.61 287.0,278.58 288.0,278.56 289.0,278.53 290.0,278.51 291.0,278.48 292.0,278.45 293.0,278.43 294.0,278.40 295.0,278.37 296.0,278.34 297.0,278.31 298.0,278.28 299.0,278.25 300.0,278.22 301.0,278.19 302.0,278.16 303.0,278.13 304.0,278.09 305.0,278.06 306.0,278.02 307.0,277.99 308.0,277.95 309.0,277.92 310.0,277.88 311.0,277.84 312.0,277.80 313.0,277.76 314.0,277.72 315.0,277.68 316.0,277.64 317.0,277.60 318.0,277.56 319.0,277.51 320.0,277.47 321.0,277.42 322.0,277.38 323.0,277.33 324.0,277.28 325.0,277.23 326.0,277.18 327.0,277.13 328.0,277.08 329.0,277.03 330.0,276.98 331.0,276.92 332.0,276.87 333.0,276.81 334.0,276.75 335.0,276.70 336.0,276.64 337.0,276.58 338.0,276.51 339.0,276.45 340.0,276.39 341.0,276.32 342.0,276.26 343.0,276.19 344.0,276.12 345.0,276.05 346.0,275.98 347.0,275.91 348.0,275.84 349.0,275.76 350.0,275.69 351.0,275.61 352.0,275.53 353.0,275.45 354.0,275.37 355.0,275.29 356.0,275.20 357.0,275.12 358.0,275.03 359.0,274.94 360.0,274.85 361.0,274.76 362.0,274.66 363.0,274.57 364.0,274.47 365.0,274.37 366.0,274.27 367.0,274.17 368.0,274.07 369.0,273.96 370.0,273.86 371.0,273.75 372.0,273.63 373.0,273.52 374.0,273.41 375.0,273.29 376.0,273.17 377.0,273.05 378.0,272.93 379.0,272.80 380.0,272.68 381.0,272.55 382.0,272.42 383.0,272.28 384.0,272.15 385.0,272.01 386.0,271.87 387.0,271.73 388.0,271.58 389.0,271.43 390.0,271.28 391.0,271.13 392.0,270.98 393.0,270.82 394.0,270.66 395.0,270.50 396.0,270.33 397.0,270.17 398.0,270.00 399.0,269.82 400.0,269.65 401.0,269.47 402.0,269.29 403.0,269.11 404.0,268.92 405.0,268.73 406.0,268.54 407.0,268.34 408.0,268.14 409.0,267.94 410.0,267.74 411.0,267.53 412.0,267.32 413.0,267.10 414.0,266.88 415.0,266.66 416.0,266.44 417.0,266.21 418.0,265.98 419.0,265.75 420.0,265.51 421.0,265.27 422.0,265.03 423.0,264.78 424.0,264.53 425.0,264.27 426.0,264.01 427.0,263.75 428.0,263.48 429.0,263.21 430.0,262.94 431.0,262.66 432.0,262.38 433.0,262.10 434.0,261.81 435.0,261.52 436.0,261.22 437.0,260.92 438.0,260.62 439.0,260.31 440.0,260.00 441.0,259.68 442.0,259.36 443.0,259.04 444.0,258.71 445.0,258.38 446.0,258.04 447.0,257.70 448.0,257.36 449.0,257.01 450.0,256.65 451.0,256.30 452.0,255.94 453.0,255.57 454.0,255.20 455.0,254.83 456.0,254.45 457.0,254.07 458.0,253.68 459.0,253.29 460.0,252.89 461.0,252.49 462.0,252.09 463.0,251.68 464.0,251.27 465.0,250.86 466.0,250.44 467.0,250.01 468.0,249.58 469.0,249.14 470.0,248.70 471.0,248.26 472.0,247.80 473.0,247.35 474.0,246.88 475.0,246.41 476.0,245.93 477.0,245.45 478.0,244.95 479.0,244.45 480.0,243.95 481.0,243.43 482.0,242.91 483.0,242.37 484.0,241.83 485.0,241.28 486.0,240.71 487.0,240.14 488.0,239.56 489.0,238.96 490.0,238.35 491.0,237.73 492.0,237.10 493.0,236.45 494.0,235.79 495.0,235.12 496.0,234.43 497.0,233.73 498.0,233.01 499.0,232.27 500.0,231.51 501.0,230.74 502.0,229.95 503.0,229.13 504.0,228.30 505.0,227.45 506.0,226.57 507.0,225.67 508.0,224.75 509.0,223.80 510.0,222.82 511.0,221.82 512.0,220.79 513.0,219.73 514.0,218.65 515.0,217.53 516.0,216.39 517.0,215.22 518.0,214.01 519.0,212.78 520.0,211.53 521.0,210.24 522.0,208.92 523.0,207.57 524.0,206.20 525.0,204.79 526.0,203.36 527.0,201.90 528.0,200.41 529.0,198.89 530.0,197.34 531.0,195.77 532.0,194.17 533.0,192.54 534.0,190.89 535.0,189.21 536.0,187.50 537.0,185.77 538.0,184.01 539.0,182.22 540.0,180.41 541.0,178.57 542.0,176.70 543.0,174.81 544.0,172.90 545.0,170.96" fill="none" stroke="#1616dc" stroke-width="1.9" stroke-linejoin="round" stroke-linecap="round"/>
<polyline points="100.0,279.60 101.0,279.60 102.0,279.60 103.0,279.60 104.0,279.60 105.0,279.60 106.0,279.60 107.0,279.60 108.0,279.60 109.0,279.57 110.0,279.53 111.0,279.50 112.0,279.46 113.0,279.42 114.0,279.39 115.0,279.35 116.0,279.30 117.0,279.26 118.0,279.22 119.0,279.17 120.0,279.13 121.0,279.08 122.0,279.03 123.0,278.98 124.0,278.93 125.0,278.87 126.0,278.82 127.0,278.76 128.0,278.70 129.0,278.64 130.0,278.58 131.0,278.51 132.0,278.45 133.0,278.38 134.0,278.31 135.0,278.24 136.0,278.17 137.0,278.09 138.0,278.01 139.0,277.93 140.0,277.85 141.0,277.77 142.0,277.68 143.0,277.59 144.0,277.50 145.0,277.41 146.0,277.31 147.0,277.21 148.0,277.11 149.0,277.00 150.0,276.90 151.0,276.79 152.0,276.67 153.0,276.56 154.0,276.44 155.0,276.32 156.0,276.19 157.0,276.06 158.0,275.93 159.0,275.80 160.0,275.66 161.0,275.51 162.0,275.37 163.0,275.22 164.0,275.06 165.0,274.91 166.0,274.75 167.0,274.58 168.0,274.41 169.0,274.24 170.0,274.06 171.0,273.88 172.0,273.69 173.0,273.50 174.0,273.30 175.0,273.10 176.0,272.90 177.0,272.69 178.0,272.47 179.0,272.25 180.0,272.03 181.0,271.80 182.0,271.56 183.0,271.32 184.0,271.07 185.0,270.82 186.0,270.56 187.0,270.30 188.0,270.03 189.0,269.75 190.0,269.47 191.0,269.18 192.0,268.88 193.0,268.58 194.0,268.27 195.0,267.96 196.0,267.64 197.0,267.31 198.0,266.97 199.0,266.63 200.0,266.28 201.0,265.92 202.0,265.56 203.0,265.19 204.0,264.81 205.0,264.42 206.0,264.02 207.0,263.62 208.0,263.21 209.0,262.79 210.0,262.36 211.0,261.93 212.0,261.48 213.0,261.03 214.0,260.56 215.0,260.09 216.0,259.61 217.0,259.12 218.0,258.62 219.0,258.11 220.0,257.60 221.0,257.07 222.0,256.53 223.0,255.99 224.0,255.43 225.0,254.86 226.0,254.28 227.0,253.70 228.0,253.10 229.0,252.49 230.0,251.87 231.0,251.24 232.0,250.61 233.0,249.95 234.0,249.29 235.0,248.62 236.0,247.94 237.0,247.24 238.0,246.54 239.0,245.82 240.0,245.09 241.0,244.35 242.0,243.59 243.0,242.83 244.0,242.05 245.0,241.27 246.0,240.47 247.0,239.65 248.0,238.83 249.0,237.99 250.0,237.15 251.0,236.29 252.0,235.41 253.0,234.53 254.0,233.63 255.0,232.72 256.0,231.79 257.0,230.86 258.0,229.91 259.0,228.95 260.0,227.98 261.0,226.99 262.0,225.99 263.0,224.98 264.0,223.95 265.0,222.92 266.0,221.87 267.0,220.80 268.0,219.73 269.0,218.64 270.0,217.54 271.0,216.42 272.0,215.30 273.0,214.16 274.0,213.00 275.0,211.84 276.0,210.66 277.0,209.47 278.0,208.27 279.0,207.05 280.0,205.83 281.0,204.59 282.0,203.33 283.0,202.07 284.0,200.79 285.0,199.51 286.0,198.21 287.0,196.89 288.0,195.57 289.0,194.24 290.0,192.89 291.0,191.53 292.0,190.16 293.0,188.78 294.0,187.39 295.0,185.99 296.0,184.58 297.0,183.16 298.0,181.73 299.0,180.28 300.0,178.83 301.0,177.37 302.0,175.90 303.0,174.42 304.0,172.93 305.0,171.43 306.0,169.92 307.0,168.41 308.0,166.89 309.0,165.36 310.0,163.82 311.0,162.27 312.0,160.72 313.0,159.16 314.0,157.59 315.0,156.02 316.0,154.44 317.0,152.86 318.0,151.27 319.0,149.67 320.0,148.08 321.0,146.47 322.0,144.87 323.0,143.25 324.0,141.64 325.0,140.02 326.0,138.40 327.0,136.78 328.0,135.16 329.0,133.53 330.0,131.90 331.0,130.28 332.0,128.65 333.0,127.02 334.0,125.39 335.0,123.76 336.0,122.14 337.0,120.51 338.0,118.89 339.0,117.27 340.0,115.66 341.0,114.04 342.0,112.43 343.0,110.83 344.0,109.22 345.0,107.63 346.0,106.04 347.0,104.45 348.0,102.87 349.0,101.30 350.0,99.74 351.0,98.18 352.0,96.63 353.0,95.09 354.0,93.56 355.0,92.04 356.0,90.53 357.0,89.03 358.0,87.54 359.0,86.06 360.0,84.59 361.0,83.14 362.0,81.70 363.0,80.27 364.0,78.85 365.0,77.45 366.0,76.07 367.0,74.70 368.0,73.34 369.0,72.00 370.0,70.67 371.0,69.36 372.0,68.07 373.0,66.79 374.0,65.53 375.0,64.28 376.0,63.05 377.0,61.84 378.0,60.65 379.0,59.47 380.0,58.30 381.0,57.16 382.0,56.03 383.0,54.92 384.0,53.82 385.0,52.74 386.0,51.68 387.0,50.64 388.0,49.62 389.0,48.61 390.0,47.62 391.0,46.64 392.0,45.69 393.0,44.75 394.0,43.83 395.0,42.93 396.0,42.04 397.0,41.17 398.0,40.32 399.0,39.49 400.0,38.67 401.0,37.87 402.0,37.09 403.0,36.32 404.0,35.58 405.0,34.85 406.0,34.13 407.0,33.43 408.0,32.75 409.0,32.09 410.0,31.44 411.0,30.81 412.0,30.19 413.0,29.59 414.0,29.00 415.0,28.44 416.0,27.88 417.0,27.34 418.0,26.82 419.0,26.31 420.0,25.82 421.0,25.34 422.0,24.88 423.0,24.43 424.0,24.00 425.0,23.58 426.0,23.17 427.0,22.78 428.0,22.41 429.0,22.05 430.0,21.70 431.0,21.37 432.0,21.05 433.0,20.75 434.0,20.46 435.0,20.19 436.0,19.93 437.0,19.68 438.0,19.45 439.0,19.23 440.0,19.03 441.0,18.84 442.0,18.66 443.0,18.50 444.0,18.35 445.0,18.22 446.0,18.10 447.0,17.99 448.0,17.89 449.0,17.81 450.0,17.75 451.0,17.69 452.0,17.65 453.0,17.62 454.0,17.60 455.0,17.60 456.0,17.61 457.0,17.63 458.0,17.67 459.0,17.71 460.0,17.77 461.0,17.84 462.0,17.93 463.0,18.03 464.0,18.14 465.0,18.27 466.0,18.41 467.0,18.57 468.0,18.74 469.0,18.93 470.0,19.13 471.0,19.34 472.0,19.58 473.0,19.83 474.0,20.09 475.0,20.37 476.0,20.67 477.0,20.98 478.0,21.31 479.0,21.66 480.0,22.03 481.0,22.41 482.0,22.81 483.0,23.23 484.0,23.67 485.0,24.13 486.0,24.60 487.0,25.09 488.0,25.60 489.0,26.13 490.0,26.68 491.0,27.25 492.0,27.84 493.0,28.44 494.0,29.07 495.0,29.72 496.0,30.38 497.0,31.07 498.0,31.77 499.0,32.50 500.0,33.24 501.0,34.01 502.0,34.79 503.0,35.60 504.0,36.42 505.0,37.27 506.0,38.13 507.0,39.02 508.0,39.92 509.0,40.85 510.0,41.80 511.0,42.76 512.0,43.75 513.0,44.76 514.0,45.78 515.0,46.83 516.0,47.89 517.0,48.98 518.0,50.09 519.0,51.21 520.0,52.36 521.0,53.52 522.0,54.70 523.0,55.91 524.0,57.13 525.0,58.37 526.0,59.63 527.0,60.91 528.0,62.20 529.0,63.51 530.0,64.85 531.0,66.20 532.0,67.56 533.0,68.95 534.0,70.35 535.0,71.77 536.0,73.20 537.0,74.65 538.0,76.12 539.0,77.60 540.0,79.10 541.0,80.61 542.0,82.14 543.0,83.68 544.0,85.24 545.0,86.81" fill="none" stroke="#a0602a" stroke-width="1.6" stroke-linejoin="round" stroke-linecap="round"/>
<polyline points="24.0,252.50 25.0,251.76 26.0,251.02 27.0,250.25 28.0,249.48 29.0,248.69 30.0,247.88 31.0,247.06 32.0,246.23 33.0,245.38 34.0,244.52 35.0,243.64 36.0,242.74 37.0,241.84 38.0,240.91 39.0,239.97 40.0,239.02 41.0,238.05 42.0,237.06 43.0,236.06 44.0,235.05 45.0,234.02 46.0,232.97 47.0,231.91 48.0,230.83 49.0,229.74 50.0,228.63 51.0,227.51 52.0,226.37 53.0,225.22 54.0,224.05 55.0,222.86 56.0,221.67 57.0,220.45 58.0,219.22 59.0,217.98 60.0,216.72 61.0,215.45 62.0,214.16 63.0,212.86 64.0,211.55 65.0,210.22 66.0,208.88 67.0,207.52 68.0,206.15 69.0,204.77 70.0,203.37 71.0,201.96 72.0,200.54 73.0,199.11 74.0,197.66 75.0,196.21 76.0,194.74 77.0,193.26 78.0,191.76 79.0,190.26 80.0,188.75 81.0,187.23 82.0,185.69 83.0,184.15 84.0,182.60 85.0,181.04 86.0,179.47 87.0,177.89 88.0,176.31 89.0,174.72 90.0,173.12 91.0,171.51 92.0,169.90 93.0,168.29 94.0,166.66 95.0,165.03 96.0,163.40 97.0,161.77 98.0,160.13 99.0,158.49 100.0,156.84 101.0,155.19 102.0,153.54 103.0,151.89 104.0,150.24 105.0,148.59 106.0,146.94 107.0,145.29 108.0,143.64 109.0,142.00 110.0,140.35 111.0,138.71 112.0,137.07 113.0,135.44 114.0,133.81 115.0,132.19 116.0,130.57 117.0,128.96 118.0,127.35 119.0,125.75 120.0,124.16 121.0,122.58 122.0,121.00 123.0,119.43 124.0,117.87 125.0,116.32 126.0,114.78 127.0,113.24 128.0,111.72 129.0,110.21 130.0,108.70 131.0,107.21 132.0,105.73 133.0,104.26 134.0,102.80 135.0,101.36 136.0,99.92 137.0,98.50 138.0,97.09 139.0,95.69 140.0,94.31 141.0,92.94 142.0,91.58 143.0,90.24 144.0,88.91 145.0,87.59 146.0,86.29 147.0,85.00 148.0,83.73 149.0,82.47 150.0,81.23 151.0,80.00 152.0,78.79 153.0,77.59 154.0,76.41 155.0,75.24 156.0,74.09 157.0,72.95 158.0,71.83 159.0,70.73 160.0,69.64 161.0,68.56 162.0,67.51 163.0,66.47 164.0,65.44 165.0,64.43 166.0,63.43 167.0,62.46 168.0,61.49 169.0,60.55 170.0,59.62 171.0,58.70 172.0,57.80 173.0,56.92 174.0,56.05 175.0,55.19 176.0,54.36 177.0,53.53 178.0,52.73 179.0,51.94 180.0,51.16 181.0,50.40 182.0,49.65 183.0,48.92 184.0,48.20 185.0,47.50 186.0,46.81 187.0,46.14 188.0,45.49 189.0,44.85 190.0,44.23 191.0,43.62 192.0,43.03 193.0,42.46 194.0,41.90 195.0,41.36 196.0,40.84 197.0,40.33 198.0,39.85 199.0,39.38 200.0,38.92 201.0,38.49 202.0,38.07 203.0,37.67 204.0,37.29 205.0,36.93 206.0,36.58 207.0,36.26 208.0,35.95 209.0,35.66 210.0,35.39 211.0,35.14 212.0,34.91 213.0,34.70 214.0,34.51 215.0,34.33 216.0,34.18 217.0,34.04 218.0,33.93 219.0,33.83 220.0,33.75 221.0,33.69 222.0,33.66 223.0,33.64 224.0,33.64 225.0,33.66 226.0,33.70 227.0,33.76 228.0,33.84 229.0,33.94 230.0,34.06 231.0,34.20 232.0,34.36 233.0,34.54 234.0,34.74 235.0,34.96 236.0,35.20 237.0,35.45 238.0,35.73 239.0,36.03 240.0,36.34 241.0,36.68 242.0,37.04 243.0,37.41 244.0,37.81 245.0,38.22 246.0,38.65 247.0,39.10 248.0,39.57 249.0,40.06 250.0,40.57 251.0,41.10 252.0,41.65 253.0,42.21 254.0,42.79 255.0,43.40 256.0,44.02 257.0,44.65 258.0,45.31 259.0,45.98 260.0,46.68 261.0,47.39 262.0,48.12 263.0,48.86 264.0,49.63 265.0,50.41 266.0,51.22 267.0,52.04 268.0,52.87 269.0,53.73 270.0,54.60 271.0,55.50 272.0,56.40 273.0,57.33 274.0,58.28 275.0,59.24 276.0,60.22 277.0,61.21 278.0,62.23 279.0,63.26 280.0,64.30 281.0,65.37 282.0,66.45 283.0,67.54 284.0,68.66 285.0,69.78 286.0,70.93 287.0,72.09 288.0,73.26 289.0,74.45 290.0,75.66 291.0,76.88 292.0,78.12 293.0,79.37 294.0,80.63 295.0,81.91 296.0,83.20 297.0,84.51 298.0,85.82 299.0,87.15 300.0,88.50 301.0,89.86 302.0,91.22 303.0,92.61 304.0,94.00 305.0,95.40 306.0,96.82 307.0,98.24 308.0,99.68 309.0,101.12 310.0,102.58 311.0,104.05 312.0,105.52 313.0,107.01 314.0,108.50 315.0,110.00 316.0,111.51 317.0,113.03 318.0,114.55 319.0,116.08 320.0,117.62 321.0,119.16 322.0,120.71 323.0,122.27 324.0,123.83 325.0,125.39 326.0,126.96 327.0,128.54 328.0,130.12 329.0,131.70 330.0,133.28 331.0,134.87 332.0,136.46 333.0,138.05 334.0,139.65 335.0,141.24 336.0,142.84 337.0,144.44 338.0,146.03 339.0,147.63 340.0,149.23 341.0,150.82 342.0,152.42 343.0,154.01 344.0,155.60 345.0,157.19 346.0,158.78 347.0,160.36 348.0,161.94 349.0,163.52 350.0,165.09 351.0,166.66 352.0,168.23 353.0,169.79 354.0,171.34 355.0,172.89 356.0,174.43 357.0,175.97 358.0,177.50 359.0,179.02 360.0,180.54 361.0,182.05 362.0,183.55 363.0,185.05 364.0,186.53 365.0,188.01 366.0,189.48 367.0,190.94 368.0,192.39 369.0,193.83 370.0,195.26 371.0,196.68 372.0,198.09 373.0,199.49 374.0,200.88 375.0,202.26 376.0,203.62 377.0,204.98 378.0,206.31 379.0,207.64 380.0,208.95 381.0,210.24 382.0,211.52 383.0,212.79 384.0,214.03 385.0,215.26 386.0,216.48 387.0,217.67 388.0,218.85 389.0,220.01 390.0,221.15 391.0,222.28 392.0,223.38 393.0,224.47 394.0,225.54 395.0,226.59 396.0,227.63 397.0,228.64 398.0,229.64 399.0,230.62 400.0,231.58 401.0,232.52 402.0,233.44 403.0,234.34 404.0,235.23 405.0,236.10 406.0,236.95 407.0,237.78 408.0,238.60 409.0,239.40 410.0,240.18 411.0,240.94 412.0,241.69 413.0,242.42 414.0,243.13 415.0,243.83 416.0,244.51 417.0,245.18 418.0,245.83 419.0,246.46 420.0,247.08 421.0,247.69 422.0,248.28 423.0,248.86 424.0,249.42 425.0,249.98 426.0,250.52 427.0,251.06 428.0,251.58 429.0,252.09 430.0,252.60 431.0,253.09 432.0,253.58 433.0,254.06 434.0,254.53 435.0,255.00 436.0,255.45 437.0,255.90 438.0,256.35 439.0,256.79 440.0,257.22 441.0,257.64 442.0,258.06 443.0,258.48 444.0,258.89 445.0,259.30 446.0,259.70 447.0,260.09 448.0,260.49 449.0,260.87 450.0,261.26 451.0,261.64 452.0,262.01 453.0,262.38 454.0,262.75 455.0,263.11 456.0,263.47 457.0,263.82 458.0,264.17 459.0,264.51 460.0,264.85 461.0,265.18 462.0,265.50 463.0,265.83 464.0,266.14 465.0,266.45 466.0,266.76 467.0,267.06 468.0,267.35 469.0,267.64 470.0,267.92 471.0,268.20 472.0,268.47 473.0,268.74 474.0,269.00 475.0,269.26 476.0,269.51 477.0,269.76 478.0,270.00 479.0,270.23 480.0,270.46 481.0,270.69 482.0,270.91 483.0,271.13 484.0,271.34 485.0,271.54 486.0,271.74 487.0,271.94 488.0,272.13 489.0,272.32 490.0,272.50 491.0,272.68 492.0,272.85 493.0,273.02 494.0,273.19 495.0,273.35 496.0,273.51 497.0,273.66 498.0,273.81 499.0,273.96 500.0,274.10 501.0,274.24 502.0,274.37 503.0,274.50 504.0,274.63 505.0,274.75 506.0,274.87 507.0,274.99 508.0,275.10 509.0,275.22 510.0,275.32 511.0,275.43 512.0,275.53 513.0,275.63 514.0,275.73 515.0,275.82 516.0,275.91 517.0,276.00 518.0,276.08 519.0,276.17 520.0,276.25 521.0,276.33 522.0,276.40 523.0,276.48 524.0,276.55 525.0,276.62 526.0,276.68 527.0,276.75 528.0,276.81 529.0,276.87 530.0,276.93 531.0,276.99 532.0,277.04 533.0,277.10 534.0,277.15 535.0,277.20 536.0,277.25 537.0,277.29 538.0,277.34 539.0,277.38 540.0,277.42 541.0,277.46 542.0,277.50 543.0,277.54 544.0,277.57 545.0,277.61" fill="none" stroke="#f5870f" stroke-width="1.9" stroke-linejoin="round" stroke-linecap="round"/>
</g>
<g class="lb">
<text transform="translate(186,54.5) scale(1.1,1)">Al(Hcip)(Hnadp)</text>
<text transform="translate(430,39.2) scale(1.1,1)">Al(cip)(Hnadp)</text>
<text transform="translate(38.5,155.2) scale(1.1,1)">Al(Hcip)(<tspan font-style="italic">H</tspan><tspan font-size="6" dy="2">2</tspan><tspan dy="-2">nadp)</tspan></text>
<text transform="translate(35,206.5) scale(1.1,1)"><tspan font-style="italic">H</tspan><tspan font-size="6" dy="2">3</tspan><tspan dy="-2">nadp</tspan></text>
<text transform="translate(100.4,221.8) scale(1.1,1)">Al(Hcip)</text>
<text transform="translate(36,237.7) scale(1.1,1)">Al<tspan font-size="5.3" dx="0.4" dy="-3.3">3+</tspan></text>
<text transform="translate(64.5,242.7) scale(1.1,1)"><tspan font-style="italic">H</tspan><tspan font-size="6" dy="2">2</tspan><tspan dy="-2">cip</tspan></text>
<text transform="translate(111.4,249.6) scale(1.1,1)"><tspan font-style="italic">H</tspan><tspan font-size="6" dy="2">2</tspan><tspan dy="-2">nadp</tspan></text>
<text transform="translate(499,204) scale(1.1,1)">Hnadp</text>
<text transform="translate(483,227.8) scale(1.1,1)">Hcip</text>
<text transform="translate(475.1,261.5) scale(1.1,1)">Al(OH)<tspan font-size="5.2" dx="1.0" dy="2.3">4</tspan><tspan font-size="5.2" dx="-2.8" dy="-7">−</tspan></text>
</g>
<path d="M24,6.1H545M545,6.1V280" stroke="#454545" stroke-width="1.6" fill="none"/>
<path d="M24,280.00h10M24,273.90h5.5M24,267.81h5.5M24,261.71h5.5M24,255.62h5.5M24,249.53h5.5M24,243.43h5.5M24,237.34h5.5M24,231.24h5.5M24,225.15h5.5M24,219.05h10M24,212.95h5.5M24,206.86h5.5M24,200.76h5.5M24,194.67h5.5M24,188.57h5.5M24,182.48h5.5M24,176.38h5.5M24,170.29h5.5M24,164.19h5.5M24,158.10h10M24,152.00h5.5M24,145.91h5.5M24,139.81h5.5M24,133.72h5.5M24,127.62h5.5M24,121.53h5.5M24,115.44h5.5M24,109.34h5.5M24,103.25h5.5M24,97.15h10M24,91.06h5.5M24,84.96h5.5M24,78.87h5.5M24,72.77h5.5M24,66.68h5.5M24,60.58h5.5M24,54.49h5.5M24,48.39h5.5M24,42.30h5.5M24,36.20h10M24,30.11h5.5M24,24.01h5.5M24,17.92h5.5M24,11.82h5.5M24,5.73h5.5M24.00,280v-9M34.42,280v-4.5M44.83,280v-4.5M55.24,280v-4.5M65.66,280v-4.5M76.08,280v-4.5M86.49,280v-4.5M96.91,280v-4.5M107.32,280v-4.5M117.73,280v-4.5M128.15,280v-9M138.56,280v-4.5M148.98,280v-4.5M159.39,280v-4.5M169.81,280v-4.5M180.23,280v-4.5M190.64,280v-4.5M201.06,280v-4.5M211.47,280v-4.5M221.89,280v-4.5M232.30,280v-9M242.71,280v-4.5M253.13,280v-4.5M263.55,280v-4.5M273.96,280v-4.5M284.38,280v-4.5M294.79,280v-4.5M305.21,280v-4.5M315.62,280v-4.5M326.04,280v-4.5M336.45,280v-9M346.86,280v-4.5M357.28,280v-4.5M367.70,280v-4.5M378.11,280v-4.5M388.53,280v-4.5M398.94,280v-4.5M409.36,280v-4.5M419.77,280v-4.5M430.19,280v-4.5M440.60,280v-9M451.02,280v-4.5M461.43,280v-4.5M471.85,280v-4.5M482.26,280v-4.5M492.68,280v-4.5M503.09,280v-4.5M513.51,280v-4.5M523.92,280v-4.5M534.34,280v-4.5M544.75,280v-9" stroke="#1a1a1a" stroke-width="1.6" fill="none"/>
<path d="M24,5.5V280.7" stroke="#444" stroke-width="1.6" fill="none"/><path d="M23.3,279.9H545.7" stroke="#222" stroke-width="1.6" fill="none"/>
<g class="tl"><text transform="translate(23,284.9) scale(1.22,1)" text-anchor="end">0</text><text transform="translate(23,224.0) scale(1.22,1)" text-anchor="end">20</text><text transform="translate(23,163.0) scale(1.22,1)" text-anchor="end">40</text><text transform="translate(23,102.1) scale(1.22,1)" text-anchor="end">60</text><text transform="translate(23,41.1) scale(1.22,1)" text-anchor="end">80</text><text transform="translate(24.0,292.3) scale(1.18,1)" text-anchor="middle">3</text><text transform="translate(128.2,292.5) scale(1.18,1)" text-anchor="middle">4</text><text transform="translate(232.3,292.5) scale(1.18,1)" text-anchor="middle">5</text><text transform="translate(336.5,292.5) scale(1.18,1)" text-anchor="middle">6</text><text transform="translate(440.6,292.5) scale(1.18,1)" text-anchor="middle">7</text><text transform="translate(544.8,292.5) scale(1.18,1)" text-anchor="middle">8</text></g>
<text transform="translate(284.4,308) scale(1.2,1)" font-size="12.8" text-anchor="middle" fill="#111" stroke="#111" stroke-width="0.3">pH</text>

<ellipse cx="0.2" cy="141" rx="1.7" ry="2.3" fill="#666"/><ellipse cx="0" cy="145.2" rx="1.4" ry="1" fill="#888"/>
</svg>
</body></html>
